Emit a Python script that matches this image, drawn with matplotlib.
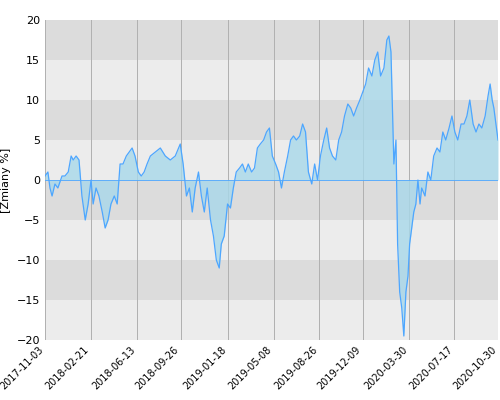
import numpy as np
import pandas as pd
import matplotlib
matplotlib.use("Agg")
import matplotlib.pyplot as plt

start = pd.Timestamp("2017-11-03")
day_offsets = [0, 7, 12, 17, 24, 31, 41, 48, 56, 63, 68, 75, 82, 89, 97, 104, 111, 116, 123, 130,
               138, 145, 152, 159, 167, 174, 181, 188, 196, 203, 210, 217, 225, 232, 239, 246, 254,
               266, 278, 290, 302, 314, 326, 333, 341, 348, 355, 362, 370, 377, 384, 391, 399, 406,
               413, 420, 425, 432, 440, 447, 454, 461, 469, 476, 483, 490, 498, 505, 512, 519, 527,
               534, 541, 548, 556, 563, 570, 577, 585, 592, 599, 606, 614, 621, 628, 635, 643, 650,
               657, 664, 672, 679, 686, 693, 701, 708, 715, 722, 730, 737, 744, 751, 759, 766, 773,
               780, 788, 795, 802, 809, 817, 824, 829, 834, 841, 846, 850, 855, 860, 865, 870, 875,
               879, 884, 889, 894, 899, 904, 908, 916, 923, 930, 937, 945, 952, 959, 966, 974, 981,
               988, 995, 1003, 1010, 1017, 1024, 1032, 1039, 1046, 1053, 1061, 1068, 1073, 1078,
               1082, 1087, 1092]
values = [0.5, 1, -1, -2, -0.5, -1, 0.5, 0.5, 1, 3, 2.5, 3, 2.5, -2, -5, -3, 0, -3, -1, -2,
          -4, -6, -5, -3, -2, -3, 2, 2, 3, 3.5, 4, 3, 1, 0.5, 1, 2, 3,
          3.5, 4, 3, 2.5, 3, 4.5, 2, -2, -1, -4, -1, 1, -2, -4, -1, -5, -7,
          -10, -11, -8, -7, -3, -3.5, -1, 1, 1.5, 2, 1, 2, 1, 1.5, 4, 4.5, 5,
          6, 6.5, 3, 2, 1, -1, 1, 3, 5, 5.5, 5, 5.5, 7, 6, 1, -0.5, 2,
          0, 3, 5, 6.5, 4, 3, 2.5, 5, 6, 8, 9.5, 9, 8, 9, 10, 11, 12,
          14, 13, 15, 16, 13, 14, 17.5, 18, 16, 2, 5, -8, -14, -16, -19.5, -14, -12,
          -8, -6, -4, -3, 0, -3, -1, -2, 1, 0, 3, 4, 3.5, 6, 5, 6.5, 8,
          6, 5, 7, 7, 8, 10, 7, 6, 7, 6.5, 8, 10.5, 12, 10,
          9, 7, 5]
tick_labels = ["2017-11-03", "2018-02-21", "2018-06-13", "2018-09-26", "2019-01-18", "2019-05-08",
               "2019-08-26", "2019-12-09", "2020-03-30", "2020-07-17", "2020-10-30"]

dates = start + pd.to_timedelta(day_offsets, unit="D")
ticks = pd.to_datetime(tick_labels)

fig, ax = plt.subplots(figsize=(5, 4), dpi=100)
fig.subplots_adjust(left=0.09, right=0.996, top=0.95, bottom=0.15)

# pasy tła co 5 punktów
for lo in range(-20, 20, 5):
    c = "#dcdcdc" if (lo // 5) % 2 == 1 else "#ececec"
    ax.axhspan(lo, lo + 5, color=c, zorder=0, lw=0)
for t in ticks:
    ax.axvline(t, color="#b0b0b0", lw=0.7, zorder=1)

ax.fill_between(dates, values, 0, color="#a8d8ea", alpha=0.8, zorder=2, lw=0)
ax.plot(dates, values, color="#4da6ff", lw=0.9, zorder=3)
ax.axhline(0, color="#4da6ff", lw=0.6, zorder=3)

ax.set_xlim(dates[0], dates[-1])
ax.set_ylim(-20, 20)
ax.set_yticks(range(-20, 21, 5))
ax.set_xticks(ticks)
ax.set_xticklabels(tick_labels, rotation=45, ha="right", fontsize=7)
ax.tick_params(axis="y", labelsize=8, length=0)
ax.tick_params(axis="x", length=0)
ax.set_ylabel("[Zmiany %]", fontsize=8)
for s in ax.spines.values():
    s.set_visible(False)

fig.savefig("out.png")
